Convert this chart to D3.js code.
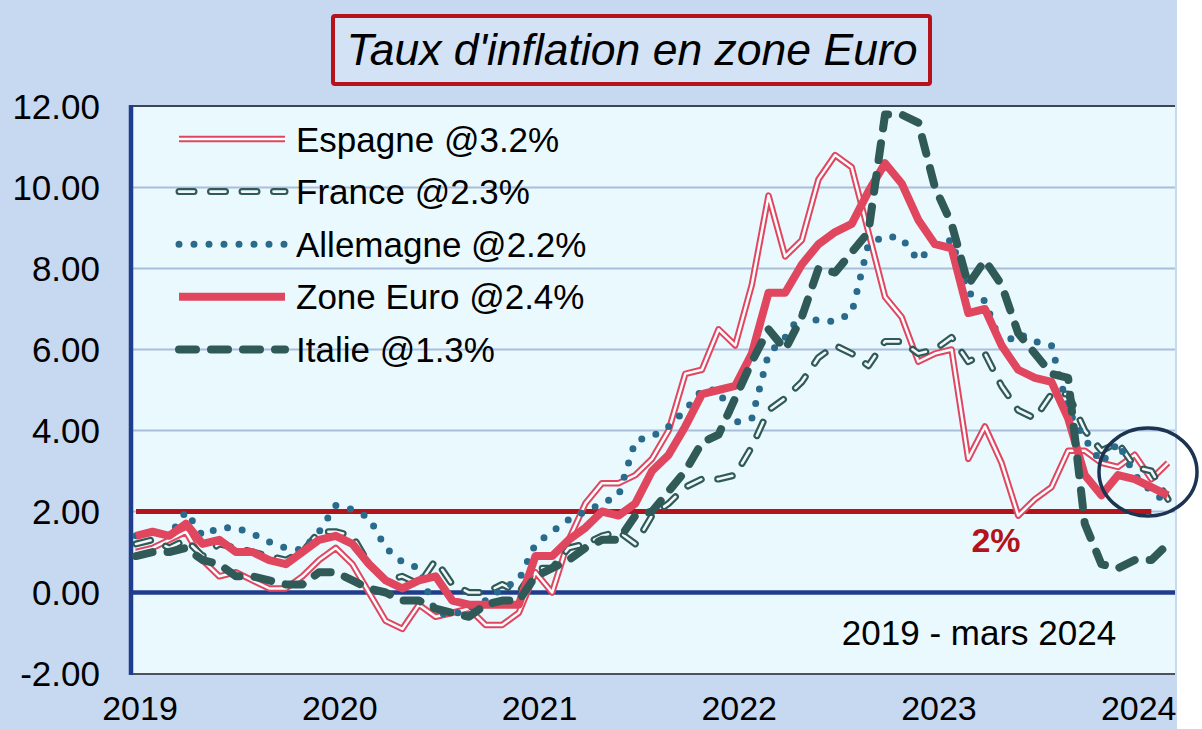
<!DOCTYPE html>
<html>
<head>
<meta charset="utf-8">
<script src="https://cdn.jsdelivr.net/npm/d3@7"></script>
<style>
  body { margin: 0; background: #fff; }
  svg { display: block; }
  text { font-family: "Liberation Sans", Arial, sans-serif; }
</style>
</head>
<body>
<div id="chart"></div>
<script>
var w = 1202,
    h = 729;

// x axis: one point per month, Jan 2019 .. Mar 2024
var years = ["2019", "2020", "2021", "2022", "2023", "2024"];
var yTicks = [-2, 0, 2, 4, 6, 8, 10, 12];

var espagne = [
    1.0, 1.1, 1.3, 1.5, 0.8, 0.4, 0.5, 0.3, 0.1, 0.1, 0.4, 0.8,
    1.1, 0.7, 0.0, -0.7, -0.9, -0.3, -0.6, -0.5, -0.4, -0.8, -0.8, -0.5,
    0.5, 0.0, 1.3, 2.2, 2.7, 2.7, 2.9, 3.3, 4.0, 5.4, 5.5, 6.5,
    6.1, 7.6, 9.8, 8.3, 8.7, 10.2, 10.8, 10.5, 8.9, 7.3, 6.8, 5.7,
    5.9, 6.0, 3.3, 4.1, 3.2, 1.9, 2.3, 2.6, 3.5, 3.5, 3.2, 3.1,
    3.4, 2.8, 3.2
];
var france = [
    1.2, 1.3, 1.1, 1.3, 0.9, 1.2, 1.1, 1.0, 0.9, 0.8, 1.0, 1.5,
    1.5, 1.4, 0.7, 0.3, 0.4, 0.2, 0.8, 0.2, 0.0, 0.0, 0.2, 0.0,
    0.6, 0.6, 1.1, 1.2, 1.4, 1.5, 1.2, 1.9, 2.2, 2.6, 2.8, 2.8,
    2.9, 3.6, 4.5, 4.8, 5.2, 5.8, 6.1, 5.9, 5.6, 6.2, 6.2, 5.9,
    6.0, 6.3, 5.7, 5.9, 5.1, 4.5, 4.3, 4.9, 4.9, 4.0, 3.5, 3.7,
    3.1, 3.0, 2.3
];
var allemagne = [
    1.4, 1.5, 1.4, 2.0, 1.4, 1.6, 1.6, 1.45, 1.25, 1.1, 1.05, 1.5,
    2.15, 2.05, 1.85, 1.1, 0.75, 0.6, -0.5, -0.55, -0.4, -0.2, 0.1, 0.3,
    1.2, 1.5, 1.8, 2.0, 2.2, 2.4, 3.75, 3.85, 4.1, 4.5, 5.0, 5.0,
    4.2, 4.3, 5.9, 6.3, 6.9, 6.7, 6.7, 6.9, 8.6, 8.8, 8.75, 8.2,
    8.6, 8.7, 7.4, 7.2, 6.1, 6.4, 6.2, 6.1, 4.5, 3.8, 3.2, 3.7,
    2.9, 2.5, 2.2
];
var zoneEuro = [
    1.4, 1.5, 1.4, 1.7, 1.2, 1.3, 1.0, 1.0, 0.8, 0.7, 1.0, 1.3,
    1.4, 1.2, 0.7, 0.3, 0.1, 0.3, 0.4, -0.2, -0.3, -0.3, -0.3, -0.3,
    0.9, 0.9, 1.3, 1.6, 2.0, 1.9, 2.2, 3.0, 3.4, 4.1, 4.9, 5.0,
    5.1, 5.9, 7.4, 7.4, 8.1, 8.6, 8.9, 9.1, 9.9, 10.6, 10.1, 9.2,
    8.6, 8.5, 6.9, 7.0, 6.1, 5.5, 5.3, 5.2, 4.3, 2.9, 2.4, 2.9,
    2.8, 2.6, 2.4
];
var italie = [
    0.9, 1.0, 1.0, 1.1, 0.8, 0.7, 0.4, 0.4, 0.3, 0.2, 0.2, 0.5,
    0.5, 0.3, 0.1, 0.0, -0.2, -0.2, -0.4, -0.5, -0.6, -0.3, -0.2, -0.2,
    0.4, 0.6, 0.8, 1.1, 1.3, 1.3, 1.9, 2.0, 2.5, 3.0, 3.7, 3.9,
    4.8, 5.7, 6.5, 6.0, 6.8, 8.0, 7.9, 8.4, 8.9, 11.8, 11.8, 11.6,
    10.0, 9.1, 7.6, 8.2, 7.6, 6.4, 5.9, 5.4, 5.3, 1.7, 0.7, 0.6,
    0.8, 0.8, 1.2
];

var seriesNames = ["Espagne @3.2%", "France @2.3%", "Allemagne @2.2%", "Zone Euro @2.4%", "Italie @1.3%"];
var targetValue = 2;
var targetMonths = [0, 61];

var palette = {
    bg: '#c6d9f0',
    plot: '#eaf9fe',
    red: '#e0475f',
    slate: '#2f5a58',
    teal: '#2a6b8c',
    navy: '#1f3c8d',
    grid: '#a9bedb',
    target: '#b3131b',
    ring: '#1c3352'
}

var plot = { left: 131, right: 1175, top: 106, bottom: 674 };

var x = d3.scaleLinear().domain([0, 62]).range([136, 1168]);
var y = d3.scaleLinear().domain([-2, 12]).range([673.5, 106.5]);

var svg = d3.select('#chart')
    .append('svg')
    .attr('width', w)
    .attr('height', h)

svg.append('rect')
    .attr('width', 1177).attr('height', h)
    .attr('fill', palette.bg)

svg.append('rect')
    .attr('x', plot.left).attr('y', plot.top)
    .attr('width', plot.right - plot.left).attr('height', plot.bottom - plot.top)
    .attr('fill', palette.plot)

// gridlines
svg.selectAll('line.grid')
    .data(yTicks.filter(function(d) { return d > 0 && d < 12 }))
    .enter().append('line')
    .attr('class', 'grid')
    .attr('x1', plot.left).attr('x2', plot.right)
    .attr('y1', function(d) { return y(d) }).attr('y2', function(d) { return y(d) })
    .attr('stroke', palette.grid).attr('stroke-width', 2)

// frame
svg.append('line')
    .attr('x1', plot.left).attr('x2', plot.right)
    .attr('y1', plot.top).attr('y2', plot.top)
    .attr('stroke', '#3d4654').attr('stroke-width', 2)
svg.append('line')
    .attr('x1', plot.left).attr('x2', plot.right)
    .attr('y1', plot.bottom).attr('y2', plot.bottom)
    .attr('stroke', '#4a5260').attr('stroke-width', 2)

// zero line
svg.append('line')
    .attr('x1', plot.left).attr('x2', plot.right)
    .attr('y1', y(0)).attr('y2', y(0))
    .attr('stroke', palette.navy).attr('stroke-width', 4.5)

// y axis
svg.append('line')
    .attr('x1', plot.left).attr('x2', plot.left)
    .attr('y1', plot.top - 1).attr('y2', plot.bottom + 1)
    .attr('stroke', palette.navy).attr('stroke-width', 4.5)

svg.selectAll('text.ytick')
    .data(yTicks).enter().append('text')
    .attr('class', 'ytick')
    .attr('x', 100)
    .attr('y', function(d) { return y(d) })
    .attr('dy', '0.36em')
    .attr('text-anchor', 'end')
    .attr('font-size', 35)
    .attr('fill', '#000')
    .text(function(d) { return d.toFixed(2) })

svg.selectAll('text.xtick')
    .data(years).enter().append('text')
    .attr('class', 'xtick')
    .attr('x', function(d, i) { return x(i * 12) + 4 })
    .attr('y', 720)
    .attr('text-anchor', 'middle')
    .attr('font-size', 34)
    .attr('fill', '#000')
    .text(function(d) { return d })

// 2% target
svg.append('line')
    .attr('x1', x(targetMonths[0])).attr('x2', x(targetMonths[1]))
    .attr('y1', y(targetValue)).attr('y2', y(targetValue))
    .attr('stroke', palette.target).attr('stroke-width', 5)

svg.append('text')
    .attr('x', 996).attr('y', 552)
    .attr('text-anchor', 'middle')
    .attr('font-size', 34).attr('font-weight', 'bold')
    .attr('fill', palette.target)
    .text('2%')

var line = d3.line()
    .x(function(d, i) { return x(i) })
    .y(function(d) { return y(d) })

// each series = list of stroke layers
var styles = [
    [ { color: palette.red, width: 6.5 }, { color: '#f7fcff', width: 2.5 } ],
    [ { color: palette.slate, width: 7, dash: '15,16.5', cap: 'round' },
      { color: '#f2f8fa', width: 2.6, dash: '15,16.5', cap: 'round' } ],
    [ { color: palette.teal, width: 7, dash: '0,15', cap: 'round' } ],
    [ { color: palette.red, width: 8 } ],
    [ { color: palette.slate, width: 8, dash: '17,15', cap: 'round' } ]
];
var allSeries = [espagne, france, allemagne, zoneEuro, italie];

function drawLayers(g, pathD, layers) {
    layers.forEach(function(s) {
        g.append('path')
            .attr('d', pathD)
            .attr('fill', 'none')
            .attr('stroke', s.color)
            .attr('stroke-width', s.width)
            .attr('stroke-dasharray', s.dash || null)
            .attr('stroke-linecap', s.cap || 'butt')
            .attr('stroke-linejoin', 'round')
    })
}

allSeries.forEach(function(values, k) {
    drawLayers(svg.append('g'), line(values), styles[k])
})

// legend
var legend = svg.append('g')
seriesNames.forEach(function(name, k) {
    var ly = 139 + k * 52.6;
    drawLayers(legend, 'M179,' + ly + 'L285,' + ly, styles[k]);
    legend.append('text')
        .attr('x', 296).attr('y', ly)
        .attr('dy', '0.36em')
        .attr('font-size', 35)
        .attr('fill', '#000')
        .text(name)
})

// period note
svg.append('text')
    .attr('x', 979).attr('y', 645)
    .attr('text-anchor', 'middle')
    .attr('font-size', 35)
    .attr('fill', '#000')
    .text('2019 - mars 2024')

// highlight ring
svg.append('ellipse')
    .attr('cx', 1148).attr('cy', 472)
    .attr('rx', 49).attr('ry', 44)
    .attr('fill', 'none')
    .attr('stroke', palette.ring).attr('stroke-width', 3.5)

// title
svg.append('rect')
    .attr('x', 333).attr('y', 16)
    .attr('width', 597).attr('height', 68)
    .attr('rx', 2)
    .attr('fill', '#d3e2f4')
    .attr('stroke', '#b5121b').attr('stroke-width', 4)

svg.append('text')
    .attr('x', 632).attr('y', 65)
    .attr('text-anchor', 'middle')
    .attr('font-size', 44.5).attr('font-style', 'italic')
    .attr('fill', '#000')
    .text("Taux d'inflation en zone Euro")
</script>
</body>
</html>
